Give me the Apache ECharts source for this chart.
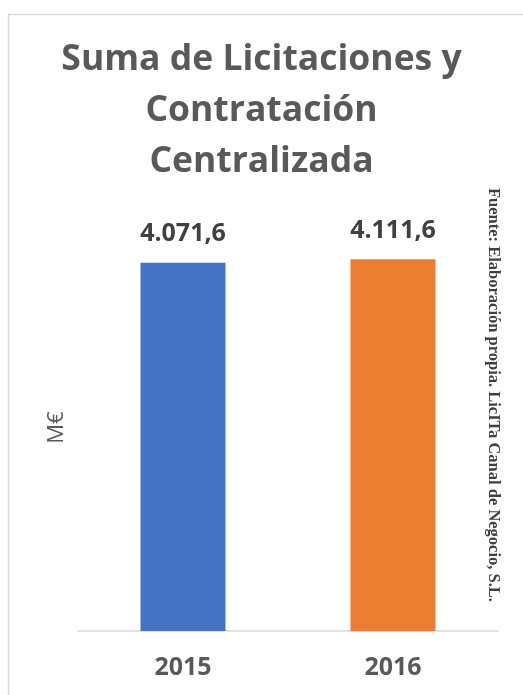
<!DOCTYPE html>
<html>
<head>
<meta charset="utf-8">
<script src="https://cdn.jsdelivr.net/npm/echarts@6/dist/echarts.min.js"></script>
<style>
  html, body { margin: 0; padding: 0; background: #fff; }
  #chart { width: 523px; height: 695px; }
</style>
</head>
<body>
<div id="chart"></div>
<script>
// ---- Data ----
const years = ['2015', '2016'];
const totals = [4071.6, 4111.6];
const barColors = ['#4472c4', '#ed7d31'];
const titleText = 'Suma de Licitaciones y\nContratación\nCentralizada';
const sourceText = 'Fuente: Elaboración propia. LicITa Canal de Negocio, S.L.';

// spanish number format: 4.071,6
function fmtEs(v) {
  const parts = v.toFixed(1).split('.');
  return parts[0].replace(/\B(?=(\d{3})+(?!\d))/g, '.') + ',' + parts[1];
}

const chart = echarts.init(document.getElementById('chart'));
const option = {
  backgroundColor: '#fff',
  animation: false,
  title: {
    text: titleText,
    left: 'center',
    top: 29,
    textStyle: {
      fontFamily: 'Open Sans',
      fontWeight: 'bold',
      fontSize: 35.5,
      lineHeight: 51,
      color: '#595959'
    }
  },
  grid: { left: 78, right: 25, top: 224, bottom: 64 },
  xAxis: {
    type: 'category',
    data: years,
    axisTick: { show: false },
    axisLine: { lineStyle: { color: '#d9d9d9', width: 1.5 } },
    axisLabel: {
      margin: 24,
      fontFamily: 'Open Sans',
      fontWeight: 'bold',
      fontSize: 25,
      color: '#595959'
    }
  },
  yAxis: {
    type: 'value',
    min: 0,
    max: 4500,
    axisLabel: { show: false },
    splitLine: { show: false },
    axisLine: { show: false },
    axisTick: { show: false },
    name: 'M€',
    nameLocation: 'middle',
    nameRotate: 90,
    nameGap: 10,
    nameTextStyle: { fontFamily: 'Open Sans', fontSize: 22, color: '#595959' }
  },
  series: [{
    type: 'bar',
    barWidth: 85,
    data: totals.map((v, i) => ({ value: v, itemStyle: { color: barColors[i] } })),
    label: {
      show: true,
      position: 'top',
      distance: 16,
      formatter: p => fmtEs(p.value),
      fontFamily: 'Open Sans',
      fontWeight: 'bold',
      fontSize: 25,
      color: '#404040'
    }
  }],
  graphic: [
    {
      type: 'rect',
      shape: { x: 8.5, y: 14.5, width: 530, height: 700 },
      style: { fill: 'none', stroke: '#d9d9d9', lineWidth: 1.5 },
      silent: true
    },
    {
      type: 'text',
      x: 493,
      y: 395,
      rotation: -Math.PI / 2,
      style: {
        text: sourceText,
        fontFamily: 'Liberation Serif',
        fontWeight: 'bold',
        fontSize: 16.5,
        fill: '#404040',
        align: 'center',
        verticalAlign: 'middle'
      }
    }
  ]
};
chart.setOption(option);
window.addEventListener('resize', () => chart.resize());
</script>
</body>
</html>
